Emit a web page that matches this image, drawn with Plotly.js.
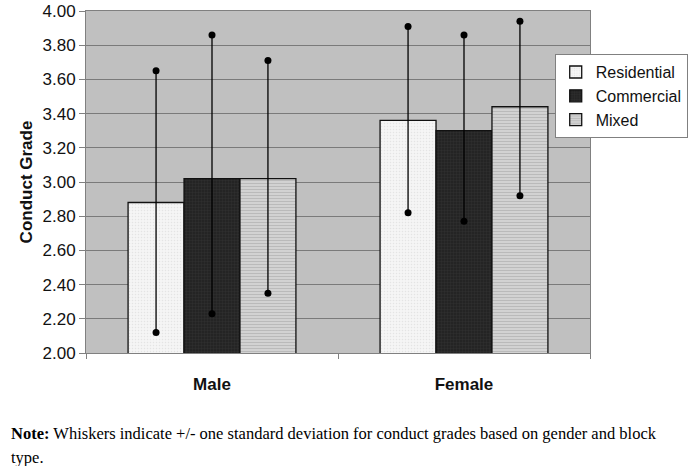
<!DOCTYPE html>
<html>
<head>
<meta charset="utf-8">
<script src="https://cdn.plot.ly/plotly-3.0.1.min.js"></script>
<style>
  html, body { margin: 0; padding: 0; background: #fff; }
  #chart { width: 688px; height: 466px; }
</style>
</head>
<body>
<div id="chart"></div>
<script>
// data
var genders = ['Male', 'Female'];
var blockTypes = ['Residential', 'Commercial', 'Mixed'];

var residentialMean = [2.88, 3.36];
var commercialMean = [3.02, 3.30];
var mixedMean = [3.02, 3.44];

// whisker ends (mean +/- one SD)
var residentialHigh = [3.65, 3.91];
var residentialLow = [2.12, 2.82];
var commercialHigh = [3.86, 3.86];
var commercialLow = [2.23, 2.77];
var mixedHigh = [3.71, 3.94];
var mixedLow = [2.35, 2.92];

var yTicks = [2.0, 2.2, 2.4, 2.6, 2.8, 3.0, 3.2, 3.4, 3.6, 3.8, 4.0];

var means = [residentialMean, commercialMean, mixedMean];
var highs = [residentialHigh, commercialHigh, mixedHigh];
var lows = [residentialLow, commercialLow, mixedLow];

var barW = 0.222;
var styles = [
    { color: '#f5f5f5', pattern: { shape: '.', bgcolor: '#f5f5f5', fgcolor: '#e4e4e4', size: 3, solidity: 0.2 } },
    { color: '#242424', pattern: { shape: '+', bgcolor: '#242424', fgcolor: '#3c3c3c', size: 3, solidity: 0.15 } },
    { color: '#d2d2d2', pattern: { shape: '-', bgcolor: '#d2d2d2', fgcolor: '#b8b8b8', size: 3, solidity: 0.3 } }
];

var catPos = genders.map((g, i) => i);

var data = [];
blockTypes.forEach(function (name, k) {
    var xs = catPos.map(p => p + (k - 1) * barW);
    data.push({
        name: name,
        type: 'bar',
        x: xs,
        y: means[k],
        width: barW,
        marker: {
            color: styles[k].color,
            pattern: styles[k].pattern,
            line: { color: '#111', width: 1.3 }
        },
        hoverinfo: 'y'
    });
});

// whiskers with dot ends
blockTypes.forEach(function (name, k) {
    var wx = [], wy = [];
    catPos.forEach(function (p, i) {
        var x = p + (k - 1) * barW;
        wx.push(x, x, null);
        wy.push(lows[k][i], highs[k][i], null);
    });
    data.push({
        type: 'scatter',
        mode: 'lines+markers',
        x: wx,
        y: wy,
        showlegend: false,
        hoverinfo: 'skip',
        line: { color: '#000', width: 1.3 },
        marker: { color: '#000', size: 7 }
    });
});

var layout = {
    width: 688,
    height: 466,
    paper_bgcolor: '#fff',
    plot_bgcolor: '#c0c0c0',
    barmode: 'overlay',
    margin: { l: 86, r: 98, t: 11, b: 113, pad: 0, autoexpand: false },
    font: { family: 'Liberation Sans, Arial, sans-serif', size: 17, color: '#111' },
    xaxis: {
        range: [-0.5, 1.5],
        tickvals: catPos,
        ticktext: genders.map(g => '<b>' + g + '</b>'),
        ticks: '',
        ticklabelstandoff: 16,
        showgrid: false,
        zeroline: false,
        showline: true,
        linecolor: '#808080',
        linewidth: 1,
        mirror: true,
        minor: { tickvals: [-0.5, 0.5, 1.5], ticks: 'outside', ticklen: 5, tickcolor: '#808080', showgrid: false },
        fixedrange: true
    },
    yaxis: {
        range: [2, 4],
        tickvals: yTicks,
        tickformat: '.2f',
        ticks: 'outside',
        ticklen: 6,
        tickcolor: '#808080',
        gridcolor: '#7a7a7a',
        gridwidth: 1,
        zeroline: false,
        showline: true,
        linecolor: '#808080',
        linewidth: 1,
        mirror: true,
        title: { text: '<b>Conduct Grade</b>', standoff: 5, font: { size: 17 } },
        fixedrange: true
    },
    showlegend: true,
    legend: {
        x: 0.93, xanchor: 'left',
        y: 0.874, yanchor: 'top',
        bgcolor: '#fff',
        bordercolor: '#808080',
        borderwidth: 1,
        font: { size: 16 },
        itemwidth: 30,
        tracegroupgap: 0
    },
    annotations: [{
        xref: 'paper', yref: 'paper',
        x: -0.153, y: -0.236,
        xanchor: 'left', yanchor: 'middle',
        showarrow: false,
        align: 'left',
        font: { family: 'Liberation Serif, Times New Roman, serif', size: 16.5, color: '#000' },
        text: '<b>Note:</b> Whiskers indicate +/- one standard deviation for conduct grades based on gender and block'
    }, {
        xref: 'paper', yref: 'paper',
        x: -0.153, y: -0.306,
        xanchor: 'left', yanchor: 'middle',
        showarrow: false,
        align: 'left',
        font: { family: 'Liberation Serif, Times New Roman, serif', size: 16.5, color: '#000' },
        text: 'type.'
    }]
};

Plotly.newPlot('chart', data, layout, { displayModeBar: false, staticPlot: true });
</script>
</body>
</html>
